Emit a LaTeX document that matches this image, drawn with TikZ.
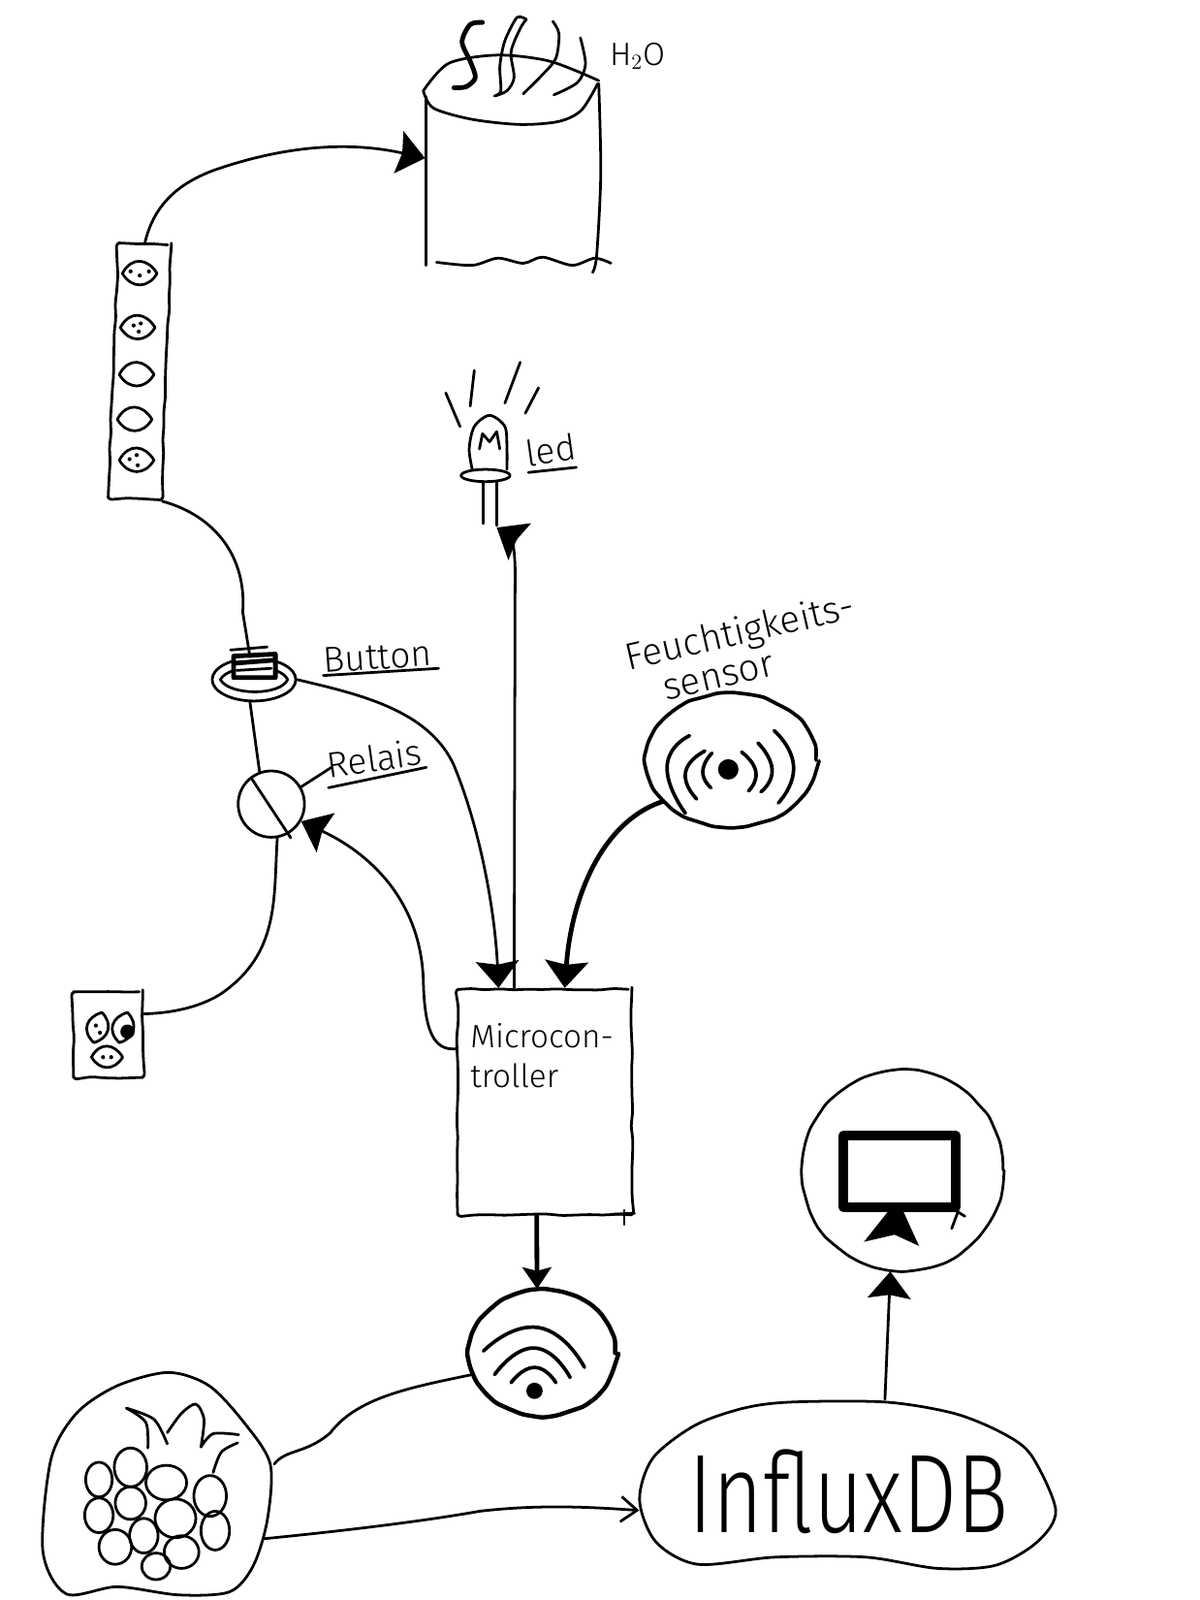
\documentclass[tikz,border=0pt]{standalone}
\usepackage{fontspec}
\usepackage{amsmath}
\usepackage{xcolor}
\setmainfont[UprightFont={* Light}]{Fira Sans}
\usetikzlibrary{arrows.meta,decorations.pathmorphing,shapes.geometric}
\tikzset{
  sketch/.style={decorate, decoration={random steps, segment length=8pt, amplitude=0.5pt}, rounded corners=2pt},
  stroke/.style={line width=1.5pt, line cap=round, line join=round},
  heavy/.style={line width=2.6pt, line cap=round, line join=round},
  bighead/.style={-{Stealth[length=15pt, width=24pt, inset=2pt]}},
  smallhead/.style={-{Stealth[length=12pt, width=16pt, inset=2pt]}},
  openhead/.style={-{Straight Barb[length=9pt, width=14pt]}},
  hand/.style={font=\fontsize{20}{22}\selectfont, inner sep=0pt},
  lens/.pic={\draw[stroke] (-17,0) .. controls (-8,-17) and (8,-15) .. (17,0) .. controls (8,15) and (-8,15) .. cycle;},
}
\begin{document}
\begin{tikzpicture}[x=0.02cm, y=-0.02cm, stroke]
\useasboundingbox (0,0) rectangle (1176,1568);

% Wassertank
\node[minimum width=3.4cm, minimum height=3.4cm, inner sep=0pt] (tank) at (503,155) {};
\draw plot[smooth] coordinates {(415,89) (440,62) (488,54) (539,60) (587,79)};
\draw plot[smooth] coordinates {(415,89) (425,106) (463,117) (510,122) (548,119) (570,108) (586,82)};
\draw (418,95) -- (418,260);
\draw plot[smooth] coordinates {(587,82) (589,170) (585,250) (581,267)};
\draw plot[smooth] coordinates {(428,257) (463,260) (488,253) (513,258) (532,252) (561,260) (583,253) (599,258)};

% Dampf
\draw[heavy] plot[smooth] coordinates {(473,22) (461,24) (453,41) (461,60) (466,76) (457,85) (445,86)};
\draw plot[smooth] coordinates {(516,19) (507,17) (497,35) (493,47) (490,66) (491,89) (485,94)};
\draw plot[smooth] coordinates {(516,19) (510,28) (501,51) (504,76) (497,89) (485,94)};
\draw plot[smooth] coordinates {(542,21) (548,33) (545,57) (532,73) (513,92)};
\draw plot[smooth] coordinates {(569,37) (574,63) (566,81) (543,93)};
\node[hand, font=\fontsize{18}{20}\selectfont] (water) at (625,55) {H$_2$O};

% Leiste mit Kernen
\node[draw, sketch, rotate=-2.3, minimum width=1.04cm, minimum height=5cm] (strip) at (137,364) {};
\foreach \sx/\sy in {137/268, 135/321, 134/367, 132/411, 134/451}
  \pic at (\sx,\sy) {lens};
\foreach \dx/\dy in {128/266, 137/270, 146/266, 131/319, 138/317, 136/325, 127/450, 134/446, 135/456}
  \fill (\dx,\dy) circle (2);

% LED
\node[draw, ellipse, minimum width=0.96cm, minimum height=0.24cm, inner sep=0pt] (ledbase) at (476,466) {};
\draw plot[smooth] coordinates {(463,460) (460,440) (465,418) (480,407) (495,418) (497,440) (497,460)};
\draw (470,440) -- (473,425) -- (480,433) -- (487,423) -- (490,440);
\draw (474,472) -- (474,513);
\draw (487,472) -- (487,515);
\coordinate (ledleg) at (487,517);
\foreach \rxa/\rya/\rxb/\ryb in {437/385/451/418, 465/363/461/398, 510/355/495/395, 528/380/515/405}
  \draw (\rxa,\rya) -- (\rxb,\ryb);
\node[hand, rotate=8] (ledtext) at (540,441) {led};
\draw (518,463) -- (565,458);

% Knopf
\node[draw, ellipse, minimum width=1.64cm, minimum height=0.84cm, inner sep=0pt] (button) at (249,666) {};
\draw (216,666) .. controls (225,650) and (275,650) .. (282,666) .. controls (275,682) and (225,682) .. cycle;
\draw[heavy, fill=white] (229,643) -- (270,641) -- (270,664) -- (229,664) -- cycle;
\draw[heavy] (230,650) -- (268,647);
\draw (232,657) -- (266,655);
\draw (226,637) -- (262,634);
\node[hand, rotate=4] (buttontext) at (370,644) {Button};
\draw (317,662) -- (430,655);

% Relais
\node[draw, circle, minimum size=1.3cm, inner sep=0pt] (relais) at (266,788) {};
\draw (246,762) -- (285,821);
\node[hand, rotate=8] (relaistext) at (367,743) {Relais};
\draw (322,772) -- (418,752);
\draw (relais.30) -- (325,752);

% Steckdose
\node[draw, sketch, minimum width=1.36cm, minimum height=1.68cm, inner sep=0pt] (outlet) at (106,1014) {};
\pic[rotate=75, scale=0.9] at (96,1007) {lens};
\pic[rotate=75, scale=0.9] at (121,1007) {lens};
\pic[scale=0.9] at (105,1036) {lens};
\fill (125,1011) circle (7);
\foreach \dx/\dy in {94/1005, 98/1012, 101/1036, 109/1036}
  \fill (\dx,\dy) circle (2);

% Feuchtigkeitssensor
\node[draw, sketch, ellipse, line width=2pt, minimum width=3.32cm, minimum height=2.6cm, inner sep=0pt] (sensor) at (717,745) {};
\fill (714,754) circle (10);
\foreach \ax/\ay/\bx/\by/\cx/\cy in {698/738/689/756/697/772, 691/736/672/757/683/783, 676/721/654/751/672/797, 727/737/741/756/734/775, 743/728/757/754/746/776, 759/716/778/751/763/787}
  \draw[line width=2pt] plot[smooth, tension=1] coordinates {(\ax,\ay) (\bx,\by) (\cx,\cy)};
\node[hand, rotate=13, align=center, font=\fontsize{21}{21}\selectfont] (sensortext) at (729,636) {Feuchtigkeits-\\sensor\hspace*{1.2cm}};

% Mikrocontroller
\node[draw, sketch, minimum width=3.42cm, minimum height=4.42cm, inner sep=0pt] (micro) at (534,1080) {};
\node[hand, anchor=north west, align=left, font=\fontsize{18}{22}\selectfont] (microtext) at (460,1002) {Microcon-\\troller};
\draw (612,1186) -- (612,1200);
\draw (600,1190) -- (622,1189);

% WLAN
\node[draw, sketch, ellipse, line width=2.4pt, minimum width=2.84cm, minimum height=2.44cm, inner sep=0pt] (wifi) at (532,1326) {};
\foreach \ax/\ay/\bx/\by/\cx/\cy in {474/1324/528/1301/573/1340, 485/1347/524/1321/559/1350, 501/1355/524/1340/545/1355}
  \draw[line width=2pt] plot[smooth, tension=1] coordinates {(\ax,\ay) (\bx,\by) (\cx,\cy)};
\fill (524,1363) circle (8);

% Himbeere
\node[minimum width=4.5cm, minimum height=4.4cm, inner sep=0pt] (rasp) at (155,1455) {};
\coordinate (raspout) at (258,1508);
\draw plot[smooth cycle] coordinates {(42,1520) (50,1430) (75,1385) (115,1358) (165,1345) (205,1358) (240,1395) (265,1435) (262,1490) (248,1535) (225,1560) (175,1563) (115,1555) (65,1562)};
\foreach \bx/\by/\brx/\bry in {97/1450/13/17, 128/1438/16/19, 163/1453/20/17, 128/1473/15/16, 97/1485/14/17, 206/1466/16/20, 172/1488/20/19, 211/1500/14/19, 141/1505/14/17, 113/1516/16/17, 178/1521/17/16, 153/1535/14/13}
  \draw (\bx,\by) ellipse ({\brx} and {\bry});
\draw plot[smooth] coordinates {(124,1380) (143,1394) (145,1419)};
\draw plot[smooth] coordinates {(124,1380) (151,1391) (164,1415)};
\draw plot[smooth] coordinates {(164,1404) (178,1385) (192,1376) (200,1391) (197,1418)};
\draw plot[smooth] coordinates {(197,1418) (209,1405) (234,1406)};
\draw plot[smooth] coordinates {(233,1414) (217,1423) (209,1443)};

% Datenbank
\node[minimum width=8.16cm, minimum height=3.3cm, inner sep=0pt] (influx) at (832,1455) {};
\draw plot[smooth cycle] coordinates {(627,1470) (640,1429) (681,1397) (729,1380) (776,1374) (868,1374) (935,1385) (982,1404) (1011,1426) (1035,1480) (1017,1511) (976,1534) (919,1537) (849,1526) (760,1526) (684,1533) (643,1511)};
\node[font=\fontsize{48}{50}\selectfont, yscale=1.3, transform shape, inner sep=0pt] (influxtext) at (832,1462) {InfluxDB};

% Monitor
\node[draw, sketch, circle, minimum size=3.94cm, inner sep=0pt] (monitor) at (885,1147) {};
\node[draw, line width=5.6pt, minimum width=2.2cm, minimum height=1.4cm, inner sep=0pt] (screen) at (882,1148) {};
\fill (870,1188) -- (886,1188) -- (901,1221) -- (877,1210) -- (847,1217) -- cycle;
\draw (939,1188) -- (933,1204);
\draw (935,1185) -- (946,1192);

% Verbindungen
\draw[bighead] (strip.north) .. controls (150,205) and (170,180) .. (215,165) .. controls (290,140) and (350,140) .. (tank.west);
\draw (strip.south east) .. controls (210,505) and (242,545) .. (238,600) -- (button.100);
\draw (button.260) -- (relais.110);
\draw[bighead] (button.east) .. controls (350,680) and (420,695) .. (445,750) .. controls (470,810) and (485,890) .. (micro.112);
\draw[bighead] (micro.149) .. controls (425,1030) and (416,1010) .. (415,960) .. controls (412,880) and (360,835) .. (relais.-30);
\draw (relais.-80) .. controls (268,880) and (275,935) .. (215,975) .. controls (190,990) and (160,993) .. (outlet.30);
\draw[bighead] (micro.105) -- (505,560) .. controls (505,535) and (500,525) .. (ledleg);
\draw[heavy, bighead] (sensor.211) .. controls (590,805) and (560,880) .. (micro.80);
\draw[heavy, smallhead] (micro.266) -- (wifi.95);
\draw (wifi.197) .. controls (400,1360) and (350,1370) .. (324,1404) .. controls (300,1425) and (280,1420) .. (rasp.10);
\draw[openhead] (raspout) .. controls (340,1500) and (420,1490) .. (470,1481) .. controls (530,1474) and (580,1477) .. (influx.187);
\draw[bighead] (influx.67) -- (monitor.263);
\end{tikzpicture}
\end{document}
